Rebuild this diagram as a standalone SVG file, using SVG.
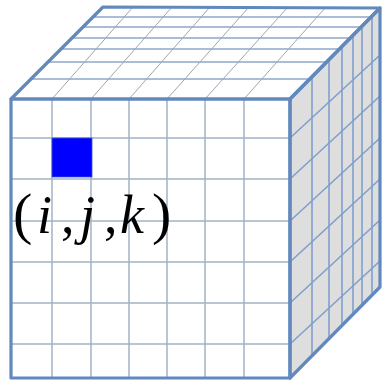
<svg xmlns="http://www.w3.org/2000/svg" width="382" height="381" viewBox="0 0 382 381">
<style>
.edge{fill:none;stroke:#6189bd;stroke-width:3.2;stroke-linejoin:round}
.fg{stroke:#a3b2c6;stroke-width:1.5}
.th{stroke:#a9bdd6;stroke-width:2}
.td{stroke:#9ea6b2;stroke-width:1}
.rg{stroke:#809fcc;stroke-width:1.6}
.lbl{font-family:"Liberation Serif","Times New Roman",serif;font-size:54px;fill:#000}
.it{font-style:italic}
.par{font-size:58px}
</style>
<rect width="382" height="381" fill="#ffffff"/>
<g id="faces">
<polygon points="11,99 103,7 380,8 290,99" fill="#ffffff"/>
<polygon points="290,99 380,8 380,287 290,378" fill="#dedede"/>
<rect x="11" y="99" width="279" height="279" fill="#ffffff"/>
</g>
<g id="front-grid">
<line class="fg" x1="52" y1="99" x2="52" y2="378"/>
<line class="fg" x1="91" y1="99" x2="91" y2="378"/>
<line class="fg" x1="129" y1="99" x2="129" y2="378"/>
<line class="fg" x1="167" y1="99" x2="167" y2="378"/>
<line class="fg" x1="205" y1="99" x2="205" y2="378"/>
<line class="fg" x1="244" y1="99" x2="244" y2="378"/>
<line class="fg" x1="11" y1="138" x2="290" y2="138"/>
<line class="fg" x1="11" y1="179" x2="290" y2="179"/>
<line class="fg" x1="11" y1="221" x2="290" y2="221"/>
<line class="fg" x1="11" y1="262" x2="290" y2="262"/>
<line class="fg" x1="11" y1="303" x2="290" y2="303"/>
<line class="fg" x1="11" y1="344" x2="290" y2="344"/>
</g>
<g id="top-grid">
<line class="th" x1="93" y1="17" x2="371" y2="17"/>
<line class="th" x1="83" y1="27" x2="361" y2="27"/>
<line class="th" x1="72" y1="38" x2="350" y2="38"/>
<line class="th" x1="61" y1="49" x2="339" y2="49"/>
<line class="th" x1="48" y1="62" x2="327" y2="62"/>
<line class="th" x1="31" y1="79" x2="310" y2="79"/>
<line class="td" x1="52" y1="99" x2="133" y2="7"/>
<line class="td" x1="91" y1="99" x2="172" y2="7"/>
<line class="td" x1="129" y1="99" x2="210" y2="7"/>
<line class="td" x1="167" y1="99" x2="249" y2="7"/>
<line class="td" x1="205" y1="99" x2="288" y2="7"/>
<line class="td" x1="244" y1="99" x2="326" y2="7"/>
</g>
<g id="right-grid">
<line class="rg" x1="312" y1="77" x2="312" y2="356"/>
<line class="rg" x1="329" y1="60" x2="329" y2="339"/>
<line class="rg" x1="342" y1="46" x2="342" y2="325"/>
<line class="rg" x1="353" y1="35" x2="353" y2="314"/>
<line class="rg" x1="362" y1="26" x2="362" y2="305"/>
<line class="rg" x1="372" y1="16" x2="372" y2="295"/>
<line class="rg" x1="290" y1="138" x2="380" y2="55"/>
<line class="rg" x1="290" y1="179" x2="380" y2="96"/>
<line class="rg" x1="290" y1="221" x2="380" y2="138"/>
<line class="rg" x1="290" y1="262" x2="380" y2="179"/>
<line class="rg" x1="290" y1="303" x2="380" y2="220"/>
<line class="rg" x1="290" y1="344" x2="380" y2="261"/>
</g>
<g id="edges">
<polygon class="edge" points="11,99 103,7 380,8 290,99"/>
<polygon class="edge" points="290,99 380,8 380,287 290,378"/>
<rect class="edge" x="11" y="99" width="279" height="279"/>
</g>
<g id="cell">
<rect x="52" y="138" width="40" height="39" fill="#0000ff" stroke="#3355cc" stroke-width="0.8"/>
</g>
<g id="label">
<text class="lbl" y="233"><tspan class="par" x="13">(</tspan><tspan class="it" x="37">i</tspan><tspan x="61">,</tspan><tspan class="it" x="80">j</tspan><tspan x="104">,</tspan><tspan class="it" x="120">k</tspan><tspan class="par" x="152">)</tspan></text>
</g>
</svg>
